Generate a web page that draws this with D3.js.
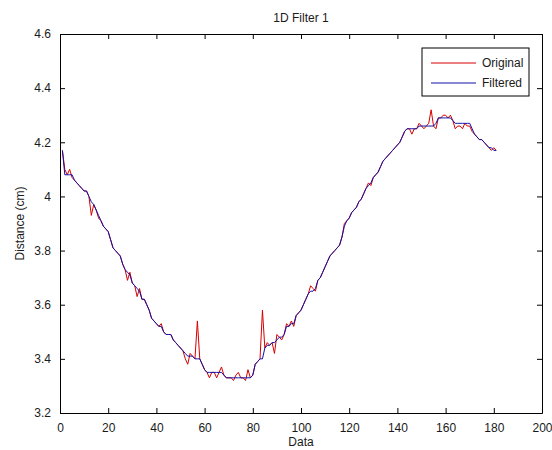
<!DOCTYPE html>
<html>
<head>
<meta charset="utf-8">
<script src="https://cdn.jsdelivr.net/npm/d3@7"></script>
<style>
  body { margin: 0; background: #fff; }
  text { font-family: "Liberation Sans", Arial, sans-serif; fill: #1a1a1a; }
</style>
</head>
<body>
<div id="chart"></div>
<script>
// raw sensor readings, index 1..181
var original = [
  4.17, 4.10, 4.08, 4.10, 4.07, 4.06, 4.05, 4.04, 4.03, 4.02,
  4.02, 4.00, 3.93, 3.97, 3.95, 3.92, 3.91, 3.89, 3.88, 3.87,
  3.84, 3.81, 3.80, 3.79, 3.78, 3.75, 3.73, 3.69, 3.72, 3.68,
  3.67, 3.63, 3.66, 3.62, 3.62, 3.60, 3.58, 3.55, 3.54, 3.53,
  3.52, 3.53, 3.50, 3.49, 3.49, 3.49, 3.47, 3.46, 3.45, 3.44,
  3.43, 3.40, 3.38, 3.42, 3.41, 3.40, 3.54, 3.40, 3.38, 3.36,
  3.35, 3.33, 3.35, 3.35, 3.33, 3.35, 3.37, 3.34, 3.33, 3.33,
  3.33, 3.32, 3.34, 3.35, 3.33, 3.33, 3.32, 3.36, 3.33, 3.34,
  3.38, 3.39, 3.40, 3.58, 3.44, 3.46, 3.45, 3.46, 3.42, 3.49,
  3.48, 3.47, 3.49, 3.53, 3.52, 3.54, 3.52, 3.56, 3.57, 3.58,
  3.60, 3.62, 3.64, 3.67, 3.66, 3.65, 3.69, 3.70, 3.72, 3.74,
  3.76, 3.78, 3.79, 3.80, 3.81, 3.82, 3.85, 3.90, 3.91, 3.92,
  3.94, 3.95, 3.96, 3.98, 3.99, 4.01, 4.03, 4.05, 4.04, 4.07,
  4.08, 4.09, 4.11, 4.13, 4.14, 4.15, 4.16, 4.17, 4.18, 4.19,
  4.20, 4.22, 4.24, 4.25, 4.25, 4.23, 4.25, 4.25, 4.27, 4.26,
  4.25, 4.26, 4.27, 4.32, 4.26, 4.25, 4.29, 4.29, 4.30, 4.30,
  4.29, 4.30, 4.28, 4.25, 4.26, 4.26, 4.25, 4.27, 4.26, 4.26,
  4.24, 4.23, 4.22, 4.21, 4.21, 4.20, 4.19, 4.18, 4.17, 4.18,
  4.17
];

// filter output, same indices
var filtered = [
  4.17, 4.08, 4.08, 4.08, 4.08, 4.06, 4.05, 4.04, 4.03, 4.02,
  4.02, 4.00, 3.98, 3.97, 3.95, 3.93, 3.91, 3.89, 3.88, 3.87,
  3.84, 3.81, 3.80, 3.79, 3.78, 3.75, 3.73, 3.72, 3.71, 3.68,
  3.67, 3.66, 3.65, 3.62, 3.62, 3.60, 3.58, 3.55, 3.54, 3.53,
  3.52, 3.52, 3.50, 3.49, 3.49, 3.49, 3.47, 3.46, 3.45, 3.44,
  3.43, 3.42, 3.41, 3.41, 3.41, 3.40, 3.40, 3.40, 3.38, 3.36,
  3.35, 3.35, 3.35, 3.35, 3.35, 3.35, 3.35, 3.34, 3.33, 3.33,
  3.33, 3.33, 3.33, 3.33, 3.33, 3.33, 3.33, 3.33, 3.33, 3.34,
  3.38, 3.39, 3.40, 3.40, 3.44, 3.45, 3.45, 3.46, 3.46, 3.47,
  3.48, 3.48, 3.49, 3.52, 3.52, 3.53, 3.53, 3.56, 3.57, 3.58,
  3.60, 3.62, 3.64, 3.65, 3.65, 3.66, 3.69, 3.70, 3.72, 3.74,
  3.76, 3.78, 3.79, 3.80, 3.81, 3.82, 3.85, 3.89, 3.91, 3.92,
  3.94, 3.95, 3.96, 3.98, 3.99, 4.01, 4.03, 4.04, 4.05, 4.07,
  4.08, 4.09, 4.11, 4.13, 4.14, 4.15, 4.16, 4.17, 4.18, 4.19,
  4.20, 4.22, 4.24, 4.25, 4.25, 4.25, 4.25, 4.25, 4.26, 4.26,
  4.26, 4.26, 4.26, 4.26, 4.26, 4.27, 4.29, 4.29, 4.29, 4.29,
  4.29, 4.29, 4.28, 4.27, 4.27, 4.27, 4.27, 4.27, 4.27, 4.27,
  4.25, 4.23, 4.22, 4.21, 4.21, 4.20, 4.19, 4.18, 4.18, 4.17,
  4.17
];

var xTicks = [0, 20, 40, 60, 80, 100, 120, 140, 160, 180, 200];
var yTicks = [3.2, 3.4, 3.6, 3.8, 4, 4.2, 4.4, 4.6];
var seriesNames = ["Original", "Filtered"];
var seriesColors = ["#d80000", "#1010a8"];

var margin = {top: 34, right: 10, bottom: 37, left: 60},
  width = 552 - margin.left - margin.right,
  height = 450 - margin.top - margin.bottom;

var svg = d3.select("#chart").append("svg")
  .attr("width", 552)
  .attr("height", 450);

var g = svg.append("g")
  .attr("transform", "translate(" + margin.left + "," + margin.top + ")");

var x = d3.scaleLinear().domain([0, 200]).range([0, width]);
var y = d3.scaleLinear().domain([3.2, 4.6]).range([height, 0]);

// lines first so the box sits on top
var line = d3.line()
  .x(function(d, i) { return x(i + 1); })
  .y(function(d) { return y(d); });

[original, filtered].forEach(function(data, k) {
  g.append("path")
    .datum(data)
    .attr("fill", "none")
    .attr("stroke", seriesColors[k])
    .attr("stroke-width", 1)
    .attr("d", line);
});

// matlab style box with inward ticks on all sides
var fmt = function(d) { return d3.format("")(d); };

g.append("g")
  .attr("transform", "translate(0," + height + ")")
  .call(d3.axisBottom(x).tickValues(xTicks).tickSizeInner(-5).tickSizeOuter(0).tickPadding(10).tickFormat(fmt));
g.append("g")
  .call(d3.axisTop(x).tickValues(xTicks).tickSizeInner(-5).tickSizeOuter(0).tickFormat(""));
g.append("g")
  .call(d3.axisLeft(y).tickValues(yTicks).tickSizeInner(-5).tickSizeOuter(0).tickPadding(9).tickFormat(fmt));
g.append("g")
  .attr("transform", "translate(" + width + ",0)")
  .call(d3.axisRight(y).tickValues(yTicks).tickSizeInner(-5).tickSizeOuter(0).tickFormat(""));

g.selectAll(".domain").attr("stroke", "#000");
g.selectAll(".tick line").attr("stroke", "#000");
g.selectAll(".tick text").style("font-size", "12px").attr("fill", "#1a1a1a");

// titles
svg.append("text")
  .attr("x", margin.left + width / 2)
  .attr("y", 22)
  .attr("text-anchor", "middle")
  .style("font-size", "12px")
  .text("1D Filter 1");

svg.append("text")
  .attr("x", margin.left + width / 2)
  .attr("y", 446)
  .attr("text-anchor", "middle")
  .style("font-size", "12px")
  .text("Data");

svg.append("text")
  .attr("transform", "translate(24," + (margin.top + height / 2) + ") rotate(-90)")
  .attr("text-anchor", "middle")
  .style("font-size", "12px")
  .text("Distance (cm)");

// legend
var legend = g.append("g")
  .attr("transform", "translate(" + (width - 120) + ",14)");

legend.append("rect")
  .attr("width", 107)
  .attr("height", 48)
  .attr("fill", "#fff")
  .attr("stroke", "#000");

var item = legend.selectAll(".item")
  .data(seriesNames)
  .enter().append("g")
    .attr("transform", function(d, i) { return "translate(0," + (15 + i * 20) + ")"; });

item.append("line")
  .attr("x1", 9)
  .attr("x2", 54)
  .attr("stroke", function(d, i) { return seriesColors[i]; });

item.append("text")
  .attr("x", 60)
  .attr("dy", "0.35em")
  .style("font-size", "12px")
  .text(function(d) { return d; });
</script>
</body>
</html>
